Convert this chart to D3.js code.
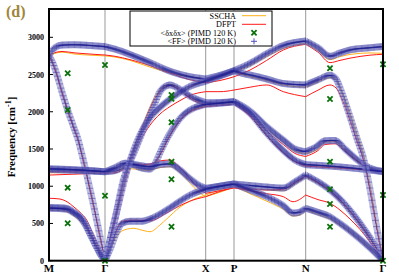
<!doctype html>
<meta charset="utf-8">
<style>
body { margin: 0; background: #fff; }
text { font-family: "Liberation Serif", "DejaVu Serif", serif; }
</style>
<script src="https://cdn.jsdelivr.net/npm/d3@7/dist/d3.min.js"></script>
<body>
<script>

var w = 399, h = 279;

// high symmetry path (k in path units) and labels
var kTicks = [0, 0.56, 1.567, 1.85, 2.567, 3.34];
var kLabels = ["M", "Γ", "X", "P", "N", "Γ"];
var yTicks = [0, 500, 1000, 1500, 2000, 2500, 3000];
var yRange = [0, 3380];

// PIMD <FF> bands, [k, cm-1]
var pimd1 = [[0,2750],[0.03,2820],[0.07,2870],[0.13,2895],[0.26,2900],[0.41,2890],[0.56,2875],
  [0.66,2840],[0.81,2770],[1.01,2660],[1.21,2545],[1.41,2470],[1.567,2440],
  [1.71,2490],[1.85,2551],[2.01,2650],[2.177,2780],[2.343,2890],[2.567,2950],
  [2.69,2860],[2.81,2745],[2.91,2790],[3.01,2830],[3.21,2860],[3.34,2875]];
var pimd2 = [[0,2750],[0.04,2650],[0.09,2450],[0.14,2220],[0.19,2010],[0.24,1820],[0.29,1630],[0.34,1370],[0.39,1080],[0.44,780],[0.49,460],[0.56,0],
  [0.66,560],[0.743,1083],[0.86,1480],[0.96,1810],[1.06,2120],[1.11,2270],[1.16,2340],[1.21,2360],[1.31,2300],[1.41,2210],[1.567,2122],
  [1.71,2125],[1.85,2135],
  [2.01,2010],[2.177,1800],[2.343,1621],[2.46,1500],[2.567,1464],
  [2.66,1520],[2.76,1610],[2.86,1615],[2.96,1500],[3.06,1380],[3.16,1280],[3.26,1220],[3.34,1200]];
var pimd3 = [[0,1225],[0.21,1215],[0.41,1205],[0.56,1195],
  [0.66,1210],[0.76,1270],[0.81,1300],[0.91,1250],[1.01,1230],[1.06,1300],[1.11,1450],[1.21,1711],[1.343,1957],[1.567,2100],
  [1.71,2115],[1.85,2135],
  [2.01,1980],[2.177,1711],[2.343,1480],[2.46,1350],[2.567,1290],
  [2.81,1270],[3.06,1240],[3.34,1195]];
var pimd4 = [[0,1235],[0.21,1225],[0.41,1210],[0.56,1195],
  [0.66,1250],[0.76,1310],[0.86,1290],[1.01,1262],[1.11,1290],[1.21,1300],[1.31,1220],[1.41,1100],[1.49,1020],[1.567,972],
  [1.71,1000],[1.85,1030],
  [2.01,1010],[2.177,990],[2.343,975],[2.46,1060],[2.567,1151],
  [2.69,1060],[2.81,950],[2.93,800],[3.05,610],[3.17,390],[3.27,180],[3.34,0]];
var pimd5 = [[0,715],[0.1,712],[0.18,703],[0.25,650],[0.31,591],[0.36,500],[0.41,368],[0.46,230],[0.51,99],[0.56,0],
  [0.61,280],[0.66,560],[0.71,840],[0.76,1110],[0.81,1340],[0.86,1530],[0.91,1690],[1.01,1920],[1.11,2060],[1.21,2170],[1.31,2260],[1.41,2340],[1.567,2410],
  [1.71,2480],[1.85,2551],
  [1.95,2510],[2.01,2494],[2.177,2440],[2.343,2380],[2.567,2360],
  [2.69,2430],[2.81,2490],[2.87,2440],[2.93,2250],[3.01,1934],[3.08,1640],[3.14,1400],[3.21,960],[3.27,500],[3.34,0]];
var pimd6 = [[0,705],[0.1,700],[0.18,690],[0.25,640],[0.31,580],[0.36,490],[0.41,360],[0.46,225],[0.51,95],[0.56,0],
  [0.61,150],[0.66,330],[0.73,500],[0.81,530],[0.93,530],[1.01,560],[1.177,681],[1.31,800],[1.41,880],[1.567,960],
  [1.71,1000],[1.85,1030],
  [2.01,950],[2.177,860],[2.343,740],[2.44,640],[2.5,650],[2.567,704],
  [2.69,650],[2.81,590],[2.91,500],[3.01,400],[3.11,290],[3.21,170],[3.34,0]];

// DFPT bands
var dfpt1 = [[0,2750],[0.05,2790],[0.13,2810],[0.26,2790],[0.41,2775],[0.56,2762],
  [0.66,2745],[0.81,2700],[1.01,2620],[1.21,2520],[1.41,2430],[1.567,2390],
  [1.71,2420],[1.85,2470],
  [2.01,2560],[2.177,2690],[2.343,2830],[2.567,2906],
  [2.69,2800],[2.81,2660],[2.91,2690],[3.01,2720],[3.21,2760],[3.34,2772]];
var dfpt2 = [[0,2750],[0.04,2640],[0.09,2440],[0.14,2210],[0.19,2000],[0.24,1810],[0.29,1620],[0.34,1360],[0.39,1070],[0.44,770],[0.49,450],[0.56,0],
  [0.66,600],[0.743,1100],[0.86,1560],[0.96,1880],[1.06,2180],[1.16,2330],[1.21,2350],[1.31,2290],[1.41,2180],[1.567,2090],
  [1.71,2090],[1.85,2100],
  [2.01,1960],[2.177,1740],[2.343,1560],[2.46,1440],[2.567,1400],
  [2.69,1480],[2.76,1560],[2.86,1570],[2.96,1470],[3.06,1360],[3.16,1270],[3.26,1215],[3.34,1195]];
var dfpt3 = [[0,1150],[0.21,1160],[0.41,1170],[0.56,1174],
  [0.66,1180],[0.76,1240],[0.81,1280],[0.91,1300],[1.01,1280],[1.11,1420],[1.21,1680],[1.343,1930],[1.567,2070],
  [1.71,2085],[1.85,2100],
  [2.01,1940],[2.177,1680],[2.343,1450],[2.46,1330],[2.567,1270],
  [2.81,1250],[3.06,1230],[3.34,1195]];
var dfpt4 = [[0,1200],[0.21,1200],[0.41,1195],[0.56,1190],
  [0.66,1240],[0.76,1290],[0.86,1280],[1.01,1300],[1.11,1340],[1.21,1352],[1.31,1250],[1.41,1100],[1.49,980],[1.567,905],
  [1.71,940],[1.85,980],
  [2.01,960],[2.177,950],[2.343,960],[2.46,1050],[2.567,1140],
  [2.69,1050],[2.81,940],[2.93,790],[3.05,600],[3.17,380],[3.27,175],[3.34,0]];
var dfpt5 = [[0,838],[0.1,830],[0.18,792],[0.25,720],[0.31,650],[0.377,547],[0.44,360],[0.5,170],[0.56,0],
  [0.61,260],[0.66,520],[0.71,780],[0.76,1030],[0.81,1260],[0.86,1450],[0.91,1600],[1.01,1820],[1.11,1970],[1.21,2070],[1.31,2150],[1.41,2220],[1.567,2270],
  [1.71,2270],[1.85,2292],
  [2.01,2330],[2.177,2360],[2.343,2270],[2.567,2203],
  [2.69,2290],[2.81,2360],[2.87,2320],[2.93,2170],[3.01,1880],[3.08,1600],[3.14,1370],[3.21,940],[3.27,490],[3.34,0]];
var dfpt6 = [[0,720],[0.1,712],[0.18,700],[0.25,650],[0.31,590],[0.36,500],[0.41,370],[0.46,230],[0.51,100],[0.56,0],
  [0.61,170],[0.66,360],[0.73,530],[0.843,547],[1.01,537],[1.177,640],[1.31,740],[1.41,800],[1.567,860],
  [1.71,930],[1.85,980],
  [2.01,940],[2.177,900],[2.343,860],[2.44,792],[2.567,882],
  [2.69,820],[2.81,771],[2.91,680],[3.01,560],[3.11,420],[3.21,250],[3.34,0]];

// SSCHA bands
var sscha1 = [[0,2750],[0.05,2780],[0.13,2800],[0.26,2775],[0.41,2760],[0.56,2750],
  [0.66,2735],[0.81,2690],[1.01,2600],[1.21,2520],[1.41,2470],[1.567,2440],
  [1.71,2480],[1.85,2530],
  [2.01,2620],[2.177,2740],[2.343,2850],[2.567,2920],
  [2.69,2820],[2.81,2700],[2.91,2740],[3.01,2770],[3.21,2790],[3.34,2785]];
var sscha2 = [[0,2750],[0.04,2650],[0.09,2450],[0.14,2220],[0.19,2010],[0.24,1815],[0.29,1625],[0.34,1365],[0.39,1075],[0.44,775],[0.49,455],[0.56,0],
  [0.66,580],[0.743,1090],[0.86,1560],[0.96,1900],[1.06,2200],[1.16,2350],[1.21,2370],[1.31,2310],[1.41,2200],[1.567,2100],
  [1.71,2110],[1.85,2120],
  [2.01,1990],[2.177,1770],[2.343,1590],[2.46,1470],[2.567,1440],
  [2.69,1500],[2.76,1590],[2.86,1600],[2.96,1490],[3.06,1370],[3.16,1275],[3.26,1215],[3.34,1195]];
var sscha3 = [[0,1180],[0.21,1185],[0.41,1190],[0.56,1190],
  [0.66,1200],[0.76,1240],[0.86,1230],[1.01,1210],[1.11,1420],[1.21,1690],[1.343,1940],[1.567,2085],
  [1.71,2100],[1.85,2120],
  [2.01,1960],[2.177,1690],[2.343,1460],[2.46,1330],[2.567,1275],
  [2.81,1265],[3.06,1235],[3.34,1195]];
var sscha4 = [[0,1200],[0.21,1205],[0.41,1200],[0.56,1190],
  [0.66,1220],[0.76,1270],[0.86,1250],[1.01,1220],[1.11,1250],[1.21,1262],[1.31,1180],[1.41,1040],[1.49,930],[1.567,860],
  [1.71,920],[1.85,990],
  [2.01,970],[2.177,950],[2.343,940],[2.46,1030],[2.567,1120],
  [2.69,1040],[2.81,930],[2.93,780],[3.05,595],[3.17,380],[3.27,175],[3.34,0]];
var sscha5 = [[0,690],[0.1,680],[0.18,658],[0.25,600],[0.31,540],[0.377,435],[0.44,300],[0.5,140],[0.56,0],
  [0.61,270],[0.66,540],[0.71,810],[0.76,1070],[0.81,1300],[0.86,1500],[0.91,1660],[1.01,1890],[1.11,2040],[1.21,2160],[1.31,2250],[1.41,2330],[1.567,2420],
  [1.71,2470],[1.85,2530],
  [2.01,2470],[2.177,2420],[2.343,2360],[2.567,2330],
  [2.69,2400],[2.81,2460],[2.87,2430],[2.93,2270],[3.01,1990],[3.08,1700],[3.14,1450],[3.21,1010],[3.27,540],[3.34,0]];
var sscha6 = [[0,680],[0.1,675],[0.18,658],[0.25,600],[0.31,530],[0.36,460],[0.41,350],[0.46,220],[0.51,95],[0.56,0],
  [0.61,140],[0.66,290],[0.73,400],[0.843,435],[0.96,400],[1.01,389],[1.11,480],[1.177,560],[1.31,720],[1.41,800],[1.567,882],
  [1.71,950],[1.85,1000],
  [2.01,900],[2.177,800],[2.343,690],[2.44,600],[2.5,610],[2.567,680],
  [2.69,620],[2.81,560],[2.91,480],[3.01,385],[3.11,280],[3.21,165],[3.34,0]];

// <dxdx> PIMD points
var dxK = [0.187,0.187,0.187,0.187, 0.56,0.56,0.56, 1.225,1.225,1.225,1.225,1.225,1.225, 2.81,2.81,2.81,2.81,2.81,2.81, 3.34,3.34,3.34];
var dxF = [2517,2024,981,502, 2628,873,0, 2225,2175,1858,1330,1093,457, 2584,2172,1330,959,761,457, 2637,882,0];

var pimdBands = [pimd1, pimd2, pimd3, pimd4, pimd5, pimd6];
var dfptBands = [dfpt1, dfpt2, dfpt3, dfpt4, dfpt5, dfpt6];
var sschaBands = [sscha1, sscha2, sscha3, sscha4, sscha5, sscha6];

var svg = d3.select("body").append("svg")
    .attr("width", w)
    .attr("height", h);

var x = d3.scaleLinear().domain([kTicks[0], kTicks[kTicks.length - 1]]).range([49, 383]);
var y = d3.scaleLinear().domain(yRange).range([260.7, 9]);

svg.append("defs").append("clipPath").attr("id", "clip")
  .append("rect")
    .attr("x", x.range()[0]).attr("y", y.range()[1])
    .attr("width", x.range()[1] - x.range()[0])
    .attr("height", y.range()[0] - y.range()[1]);

// split a band into path segments between high-symmetry points
function segments(band) {
  var segs = [];
  for (var i = 0; i < kTicks.length - 1; i++) {
    var a = kTicks[i], b = kTicks[i + 1];
    var pts = band.filter(p => p[0] >= a - 1e-6 && p[0] <= b + 1e-6);
    pts = pts.filter((p, j) => j == 0 || Math.abs(p[0] - pts[j - 1][0]) > 1e-6);
    if (pts.length > 1) segs.push(pts);
  }
  return segs;
}

var line = d3.line()
    .x(d => x(d[0]))
    .y(d => y(d[1]))
    .curve(d3.curveMonotoneX);

// vertical lines at high symmetry points
svg.append("g").selectAll("line")
  .data(kTicks.slice(1, -1))
  .enter().append("line")
    .attr("x1", d => x(d)).attr("x2", d => x(d))
    .attr("y1", y.range()[0]).attr("y2", y.range()[1])
    .style("stroke", "#999")
    .style("stroke-width", 1);

var plot = svg.append("g").attr("clip-path", "url(#clip)");

function drawLines(bands, color) {
  bands.forEach(band => segments(band).forEach(seg => {
    plot.append("path")
        .attr("d", line(seg))
        .style("fill", "none")
        .style("stroke", color)
        .style("stroke-width", 1);
  }));
}

drawLines(sschaBands, "#ffb11a");
drawLines(dfptBands, "#ff1a1a");

// PIMD <FF>: dense + markers along the bands
var gBlue = plot.append("g");
pimdBands.forEach(band => segments(band).forEach(seg => {
  var p = gBlue.append("path")
      .attr("d", line(seg))
      .style("fill", "none")
      .style("stroke", "#8a8ad2")
      .style("stroke-opacity", 0.55)
      .style("stroke-width", 7);
  var node = p.node(), L = node.getTotalLength(), lastX = -1e9;
  for (var s = 0; s <= L; s += 0.4) {
    var pt = node.getPointAtLength(s);
    if (pt.x - lastX < 1.1) continue;
    lastX = pt.x;
    gBlue.append("path")
        .attr("d", "M" + (pt.x - 3.4) + "," + pt.y + "h6.8M" + pt.x + "," + (pt.y - 3.4) + "v6.8")
        .style("stroke", "#1c1c90")
        .style("stroke-opacity", 0.42)
        .style("stroke-width", 1);
  }
}));

// <dxdx> crosses
svg.append("g").selectAll("path")
  .data(dxK.map((k, i) => [k, dxF[i]]))
  .enter().append("path")
    .attr("transform", d => "translate(" + x(d[0]) + "," + y(d[1]) + ")")
    .attr("d", "M-2.6,-2.6L2.6,2.6M-2.6,2.6L2.6,-2.6")
    .style("stroke", "#0a700a")
    .style("stroke-width", 1.8);

// frame
svg.append("rect")
    .attr("x", x.range()[0]).attr("y", y.range()[1])
    .attr("width", x.range()[1] - x.range()[0])
    .attr("height", y.range()[0] - y.range()[1])
    .style("fill", "none")
    .style("stroke", "#000")
    .style("stroke-width", 2);

// y ticks
var yt = svg.append("g");
yt.selectAll("line").data(yTicks).enter().append("line")
    .attr("x1", 49).attr("x2", 53)
    .attr("y1", d => y(d)).attr("y2", d => y(d))
    .style("stroke", "#000");
yt.selectAll("text").data(yTicks).enter().append("text")
    .attr("x", 44)
    .attr("y", d => y(d) + 3)
    .attr("text-anchor", "end")
    .style("font-size", "8px")
    .style("font-weight", "bold")
    .text(d => d);

// x tick labels
svg.append("g").selectAll("text")
  .data(kTicks).enter().append("text")
    .attr("x", d => x(d))
    .attr("y", 272)
    .attr("text-anchor", "middle")
    .style("font-size", "11px")
    .style("font-weight", "bold")
    .text((d, i) => kLabels[i]);

// y label
var yl = svg.append("text")
    .attr("transform", "translate(15,137) rotate(-90)")
    .attr("text-anchor", "middle")
    .style("font-size", "11px")
    .style("font-weight", "bold");
yl.append("tspan").text("Frequency [cm");
yl.append("tspan").attr("dy", -4).style("font-size", "8px").text("-1");
yl.append("tspan").attr("dy", 4).text("]");

// panel letter
svg.append("text")
    .attr("x", 6)
    .attr("y", 17)
    .style("font-size", "16px")
    .style("font-weight", "bold")
    .style("fill", "#a0863a")
    .text("(d)");

// legend
var lg = svg.append("g");
lg.append("rect")
    .attr("x", 130).attr("y", 11)
    .attr("width", 142).attr("height", 35)
    .style("fill", "#fff")
    .style("stroke", "#000")
    .style("stroke-width", 1);
var legendNames = ["SSCHA", "DFPT", "<δxδx> (PIMD 120 K)", "<FF> (PIMD 120 K)"];
var legendRows = [15.7, 24.3, 32.7, 41.3];
lg.selectAll("text").data(legendNames).enter().append("text")
    .attr("x", 236)
    .attr("y", (d, i) => legendRows[i] + 2.8)
    .attr("text-anchor", "end")
    .style("font-size", "8.2px")
    .text(d => d);
[["#ffb11a", 0], ["#ff1a1a", 1]].forEach(c => {
  lg.append("line")
      .attr("x1", 242).attr("x2", 266)
      .attr("y1", legendRows[c[1]]).attr("y2", legendRows[c[1]])
      .style("stroke", c[0]);
});
lg.append("path")
    .attr("transform", "translate(254," + legendRows[2] + ")")
    .attr("d", "M-2.6,-2.6L2.6,2.6M-2.6,2.6L2.6,-2.6")
    .style("stroke", "#0a700a")
    .style("stroke-width", 1.8);
lg.append("path")
    .attr("transform", "translate(254," + legendRows[3] + ")")
    .attr("d", "M-3,0h6M0,-3v6")
    .style("stroke", "#5050c0")
    .style("stroke-width", 1);

</script>
